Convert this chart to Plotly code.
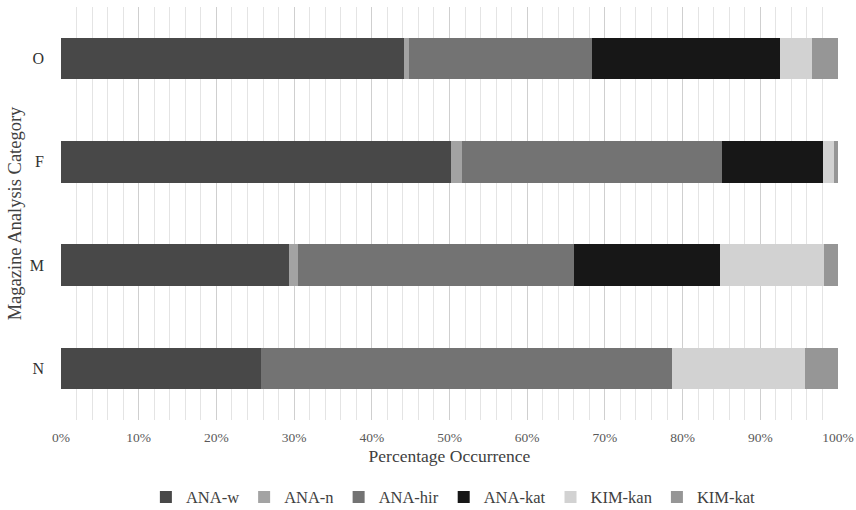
import plotly.graph_objects as go

categories = ["O", "F", "M", "N"]
series_names = ["ANA-w", "ANA-n", "ANA-hir", "ANA-kat", "KIM-kan", "KIM-kat"]
ana_w = [44.2, 50.2, 29.3, 25.7]
ana_n = [0.6, 1.4, 1.2, 0.0]
ana_hir = [23.5, 33.5, 35.5, 52.9]
ana_kat = [24.2, 13.0, 18.8, 0.0]
kim_kan = [4.1, 1.4, 13.4, 17.2]
kim_kat = [3.4, 0.5, 1.8, 4.2]
tick_vals = [0, 10, 20, 30, 40, 50, 60, 70, 80, 90, 100]
tick_text = ["0%", "10%", "20%", "30%", "40%", "50%", "60%", "70%", "80%", "90%", "100%"]

series_values = [ana_w, ana_n, ana_hir, ana_kat, kim_kan, kim_kat]
colors = ["#484848", "#a3a3a3", "#737373", "#171717", "#d2d2d2", "#969696"]

FONT = "Liberation Serif"

fig = go.Figure()
for name, vals, col in zip(series_names, series_values, colors):
    fig.add_trace(go.Bar(
        name=name, y=categories, x=vals, orientation="h",
        marker=dict(color=col, line=dict(width=0)),
        width=0.4,
    ))

fig.update_layout(
    barmode="stack",
    width=856, height=510,
    margin=dict(l=61, r=18, t=7, b=90, autoexpand=False),
    paper_bgcolor="white", plot_bgcolor="white",
    font=dict(family=FONT, color="#404040"),
    showlegend=True,
    legend=dict(
        orientation="h", x=0.505, xanchor="center", y=-0.187, yanchor="middle",
        font=dict(family=FONT, size=16.5, color="#404040"),
        traceorder="normal", itemwidth=30,
    ),
    xaxis=dict(
        range=[0, 100], tickvals=tick_vals, ticktext=tick_text,
        showgrid=True, gridcolor="#cfcfcf", gridwidth=1,
        minor=dict(dtick=2, showgrid=True, gridcolor="#e4e4e4", gridwidth=1),
        zeroline=False, showline=False, automargin=False,
        tickfont=dict(family=FONT, size=13.5, color="#595959"),
        ticklabelstandoff=7,
        title=dict(text="Percentage Occurrence", font=dict(family=FONT, size=17.5, color="#404040"), standoff=6),
        ticklen=0,
    ),
    yaxis=dict(
        autorange="reversed",
        showgrid=False, zeroline=False, showline=False, automargin=False,
        tickfont=dict(family=FONT, size=16, color="#303030"),
        ticklabelstandoff=16, ticklen=0,
        title=dict(text="Magazine Analysis Category", font=dict(family=FONT, size=18.5, color="#404040"), standoff=3),
    ),
)

fig.write_html(
    "out.html",
    config={"displayModeBar": False},
    post_script="document.body.style.margin='0px';document.body.style.overflow='hidden';",
)
